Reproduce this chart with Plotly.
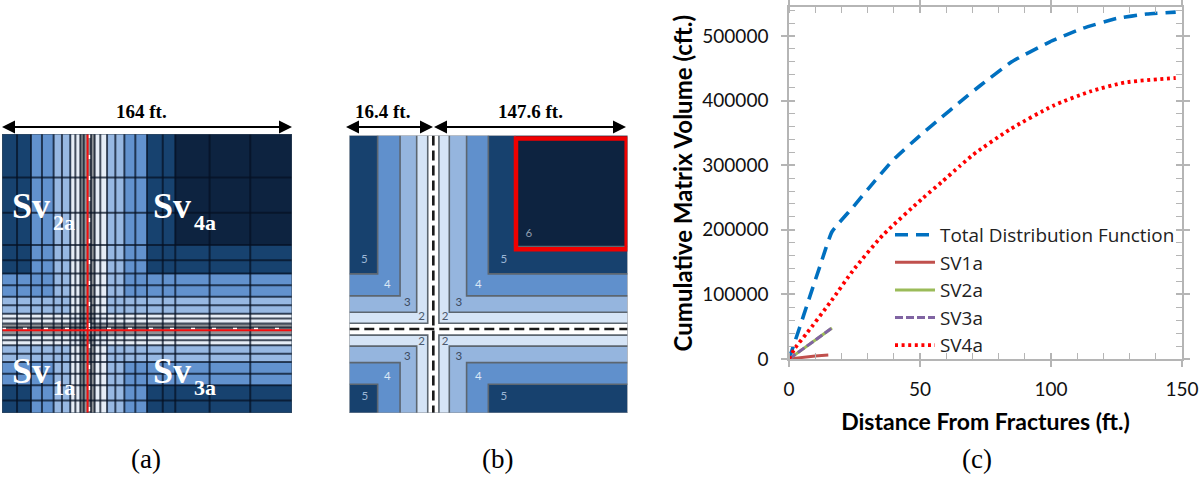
import plotly.graph_objects as go

# ---------- chart (c) data ----------
total_x = [0, 2, 4, 7, 12, 16.4, 24.4, 32, 39.7, 48.9, 57.6, 65.3, 72.9, 85, 99.6, 112.2, 125, 136.5, 147.6]
total_y = [0, 24000, 48000, 85000, 146000, 197000, 235000, 272000, 308000, 342000, 372000, 398000, 423000, 460000, 491000, 512000, 527000, 534000, 537000]
sv1_x = [0, 5, 10, 15]
sv1_y = [0, 2500, 4800, 6000]
sv2_x = [0, 4, 8, 12, 16.4]
sv2_y = [0, 11800, 23500, 35000, 48000]
sv3_x = [0, 4, 8, 12, 16.4]
sv3_y = [0, 11800, 23500, 35000, 48000]
sv4_x = [0, 2.3, 6.8, 15.6, 25, 35.9, 51.1, 58.3, 65.3, 70.2, 84.4, 100.8, 114.9, 128.2, 147.6]
sv4_y = [0, 17000, 40000, 87000, 140000, 192000, 249000, 274000, 299000, 316000, 355600, 392000, 414000, 428000, 435000]

# ---------- panel (a) grid (feet, y from the top) ----------
a_x_edges = [0, 16.4, 29.2, 39.2, 44.3, 52.8, 59.4, 68.8, 82.0, 98.0, 164]
a_x_levels = [5, 4, 3, 2, 1, 2, 3, 4, 5, 6]
a_y_edges = [0, 65.3, 82, 95.7, 105.6, 111.4, 118.3, 124.2, 134, 147.7, 164]
a_y_levels = [6, 5, 4, 3, 2, 1, 2, 3, 4, 5]
a_x_grid = [8.5, 16.4, 22.6, 29.2, 33.9, 38.6, 41.5, 44.3, 46.2, 50.3, 52.4, 55.6, 59.4, 64.1, 69.2, 75.4, 82, 90.9, 98, 117.4, 140.4]
a_y_grid = [25.5, 46.3, 65.3, 74.2, 82, 88.9, 95.7, 100.7, 105.6, 108.5, 111.4, 113.8, 118.3, 121.3, 124.2, 129.1, 134, 140.9, 147.7, 156.6]
a_frac_x = 48.4
a_frac_y = 115.4

# ---------- panel (b) zones ----------
b_x_edges = [0, 16.7, 29.9, 39.7, 46.2, 52.8, 58.9, 69.1, 81.9, 97.6, 164]
b_x_levels = [5, 4, 3, 2, 1, 2, 3, 4, 5, 6]
b_y_edges = [0, 65.6, 81.8, 94.8, 104.5, 111, 118, 124.5, 134.2, 147, 164]
b_y_levels = [6, 5, 4, 3, 2, 1, 2, 3, 4, 5]
b_frac_x = 49.5
b_frac_y = 114.4

level_colors_a = ["#8f9296", "#e6edf6", "#97b8e2", "#6292ce", "#17426f", "#0d2340"]
level_colors_b = ["#ffffff", "#d5e4f6", "#95b5de", "#6090cc", "#17416e", "#0d2340"]
zone_labels = [("5", 8.8, 73.5, "#9db7d6"), ("5", 91.1, 73.5, "#9db7d6"), ("5", 9.2, 154.9, "#9db7d6"), ("5", 91.1, 154.9, "#9db7d6"),
               ("6", 105.8, 58.1, "#8e9cae"),
               ("4", 22.4, 88.3, "#dbe7f5"), ("4", 76, 88.3, "#dbe7f5"), ("4", 22.4, 142.7, "#dbe7f5"), ("4", 76, 142.7, "#dbe7f5"),
               ("3", 34.2, 99.2, "#3c4a60"), ("3", 64.6, 99.2, "#3c4a60"), ("3", 34.2, 130.8, "#3c4a60"), ("3", 64.6, 130.8, "#3c4a60"),
               ("2", 42.6, 107.5, "#4c5a6e"), ("2", 56.4, 107.5, "#4c5a6e"), ("2", 42.6, 122.3, "#4c5a6e"), ("2", 56.4, 122.3, "#4c5a6e")]


def scale(colors):
    n = len(colors)
    out = []
    for i, c in enumerate(colors):
        out += [[i / n, c], [(i + 1) / n, c]]
    return out


def matrix(xl, yl):
    return [[min(a, b) for a in xl] for b in yl]


def px(x):
    return x / 1200


def py(y):
    return 1 - y / 479


W, H = 1200, 479
SERIF = "Liberation Serif"
SANS = "Lato"
AXIS = "#b5b5b5"

fig = go.Figure()

# ---- chart (c)
fig.add_trace(go.Scatter(x=total_x, y=total_y, mode="lines", name="Total Distribution Function",
                         line=dict(color="#0070C0", width=3.6, dash="13px,8px", shape="spline", smoothing=0.4)))
fig.add_trace(go.Scatter(x=sv1_x, y=sv1_y, mode="lines", name="SV1a", line=dict(color="#C0504D", width=3)))
fig.add_trace(go.Scatter(x=sv2_x, y=sv2_y, mode="lines", name="SV2a", line=dict(color="#9BBB59", width=3)))
fig.add_trace(go.Scatter(x=sv3_x, y=sv3_y, mode="lines", name="SV3a", line=dict(color="#8064A2", width=3, dash="8px,3px")))
fig.add_trace(go.Scatter(x=sv4_x, y=sv4_y, mode="lines", name="SV4a",
                         line=dict(color="#FF0000", width=3.8, dash="3px,3.6px", shape="spline", smoothing=0.6)))
# second set of axes gives the inward half of the crossing major ticks
fig.add_trace(go.Scatter(x=[None], y=[None], xaxis="x4", yaxis="y4", showlegend=False, hoverinfo="skip"))

# ---- panel (a)
fig.add_trace(go.Heatmap(x=a_x_edges, y=a_y_edges, z=matrix(a_x_levels, a_y_levels), zmin=0.5, zmax=6.5,
                         colorscale=scale(level_colors_a), showscale=False, hoverinfo="skip", xaxis="x2", yaxis="y2"))
gx, gy = [], []
for v in a_x_grid:
    gx += [v, v, None]
    gy += [0, 164, None]
for v in a_y_grid:
    gx += [0, 164, None]
    gy += [v, v, None]
fig.add_trace(go.Scatter(x=gx, y=gy, mode="lines", line=dict(color="rgba(6,16,34,0.72)", width=2), showlegend=False,
                         hoverinfo="skip", xaxis="x2", yaxis="y2"))
fig.add_trace(go.Scatter(x=[a_frac_x + 0.9, a_frac_x + 0.9, None, 0, 164], y=[0, 164, None, a_frac_y - 0.9, a_frac_y - 0.9],
                         mode="lines", line=dict(color="#ffffff", width=2, dash="4px,17px"), showlegend=False,
                         hoverinfo="skip", xaxis="x2", yaxis="y2"))
fig.add_trace(go.Scatter(x=[a_frac_x, a_frac_x, None, 0, 164], y=[0, 164, None, a_frac_y, a_frac_y], mode="lines",
                         line=dict(color="#f40c0c", width=2), showlegend=False, hoverinfo="skip", xaxis="x2", yaxis="y2"))

# ---- panel (b)
fig.add_trace(go.Heatmap(x=b_x_edges, y=b_y_edges, z=matrix(b_x_levels, b_y_levels), zmin=0.5, zmax=6.5,
                         colorscale=scale(level_colors_b), showscale=False, hoverinfo="skip", xaxis="x3", yaxis="y3"))
left = b_x_edges[1:5][::-1]
right = b_x_edges[5:10]
top = b_y_edges[1:5 + 1][::-1]
bottom = b_y_edges[6:10]
ox, oy = [], []
for xs, xend in ((left, 0), (right, 164)):
    for ys, yend in ((top, 0), (bottom, 164)):
        for a, b in zip(xs, ys):
            ox += [a, a, xend, None]
            oy += [yend, b, b, None]
fig.add_trace(go.Scatter(x=ox, y=oy, mode="lines", line=dict(color="#5c6670", width=1.6), showlegend=False,
                         hoverinfo="skip", xaxis="x3", yaxis="y3"))
fig.add_trace(go.Scatter(x=[b_frac_x, b_frac_x, None, 0, 164], y=[0, 164, None, b_frac_y, b_frac_y], mode="lines",
                         line=dict(color="#1a1a1a", width=2.6, dash="10px,5px"), showlegend=False, hoverinfo="skip",
                         xaxis="x3", yaxis="y3"))
fig.add_trace(go.Scatter(x=[l[1] for l in zone_labels], y=[l[2] for l in zone_labels], text=[l[0] for l in zone_labels],
                         mode="text", textfont=dict(family=SANS, size=11.5, color=[l[3] for l in zone_labels]),
                         showlegend=False, hoverinfo="skip", xaxis="x3", yaxis="y3"))

hidden = dict(visible=False, showgrid=False, zeroline=False, showticklabels=False)
shapes = [
    dict(type="rect", xref="x3", yref="y3", x0=98.2, x1=163.4, y0=1.8, y1=67.2, line=dict(color="#f00000", width=4.5)),
    dict(type="rect", xref="x2", yref="y2", x0=0, x1=164, y0=0, y1=164, line=dict(color="#3b4a5c", width=1)),
    dict(type="rect", xref="x3", yref="y3", x0=0, x1=164, y0=0, y1=164, line=dict(color="#8a9098", width=1)),
]


def arrow(x0, x1, y):
    size = 13
    half = 6.5
    shapes.append(dict(type="line", xref="paper", yref="paper", x0=px(x0 + 6), x1=px(x1 - 6), y0=py(y), y1=py(y),
                       line=dict(color="#000000", width=1.8)))
    shapes.append(dict(type="path", xref="paper", yref="paper", fillcolor="#000000", line=dict(width=0),
                       path=f"M {px(x0)} {py(y)} L {px(x0 + size)} {py(y - half)} L {px(x0 + size)} {py(y + half)} Z"))
    shapes.append(dict(type="path", xref="paper", yref="paper", fillcolor="#000000", line=dict(width=0),
                       path=f"M {px(x1)} {py(y)} L {px(x1 - size)} {py(y - half)} L {px(x1 - size)} {py(y + half)} Z"))


arrow(2, 292, 127)
arrow(346, 433, 127)
arrow(434, 626, 127)

annotations = []


def label(text, x, y, size, family=SERIF, color="#000000", anchor="center"):
    annotations.append(dict(text=text, x=px(x), y=py(y), xref="paper", yref="paper", xanchor=anchor, yanchor="middle",
                            showarrow=False, font=dict(family=family, size=size, color=color)))


label("<b>164 ft.</b>", 141, 111, 19)
label("<b>16.4 ft.</b>", 382, 111, 19)
label("<b>147.6 ft.</b>", 530, 111, 19)
label("(a)", 146, 459, 27)
label("(b)", 497, 459, 27)
label("(c)", 977, 459, 27)
for sub, x, y in (("2a", 10, 206), ("4a", 151, 206), ("1a", 10, 371), ("3a", 151, 371)):
    label("<b>Sv</b>", x, y, 36, color="#ffffff", anchor="left")
    label(f"<b>{sub}</b>", x + 41, y + 16, 22, color="#ffffff", anchor="left")

tickfont = dict(family=SANS, size=19, color="#111111")
x_titlefont = dict(family=SANS, size=23, color="#000000", weight="bold")
y_titlefont = dict(family=SANS, size=24, color="#000000", weight="bold")
c_x_dom = [px(789), px(1182)]
c_y_dom = [py(359), py(7.3)]
x_range = [0, 150]
y_range = [0, 544400]

fig.update_layout(
    width=W, height=H, margin=dict(l=0, r=0, t=0, b=0), paper_bgcolor="white", plot_bgcolor="rgba(0,0,0,0)",
    showlegend=True,
    legend=dict(x=px(890), y=py(216), xanchor="left", yanchor="top", bgcolor="rgba(0,0,0,0)", itemwidth=40,
                tracegroupgap=0, font=dict(family="Open Sans", size=18.9, color="#222222"), traceorder="normal"),
    xaxis=dict(domain=c_x_dom, range=x_range, tickvals=[0, 50, 100, 150], ticks="outside", ticklen=6, tickcolor=AXIS,
               tickwidth=1.5, showline=True, linecolor=AXIS, linewidth=1.5, mirror="ticks", showgrid=False, zeroline=False,
               minor=dict(dtick=10, ticks="inside", ticklen=6, tickcolor=AXIS, tickwidth=1.2, showgrid=False),
               tickfont=tickfont, ticklabelstandoff=6, automargin=False,
               title=dict(text="Distance From Fractures (ft.)", font=x_titlefont)),
    yaxis=dict(domain=c_y_dom, range=y_range, tickvals=[0, 100000, 200000, 300000, 400000, 500000], ticktext=["0", "100000", "200000", "300000", "400000", "500000"],
               ticks="outside", ticklen=6, tickcolor=AXIS, tickwidth=1.5, showline=True, linecolor=AXIS, linewidth=1.5, mirror="ticks",
               showgrid=False, zeroline=False,
               minor=dict(dtick=20000, ticks="inside", ticklen=6, tickcolor=AXIS, tickwidth=1.2, showgrid=False),
               tickfont=tickfont, ticklabelstandoff=9, automargin=False,
               title=dict(text="Cumulative Matrix Volume (cft.)", font=y_titlefont, standoff=3)),
    xaxis4=dict(domain=c_x_dom, range=x_range, overlaying="x", tickvals=[0, 50, 100, 150], ticks="inside", ticklen=6,
                tickcolor=AXIS, tickwidth=1.5, mirror="ticks", showline=False, showticklabels=False, showgrid=False,
                zeroline=False, anchor="y4", automargin=False),
    yaxis4=dict(domain=c_y_dom, range=y_range, overlaying="y", tickvals=[0, 100000, 200000, 300000, 400000, 500000],
                ticks="inside", ticklen=6, tickcolor=AXIS, tickwidth=1.5, mirror="ticks", showline=False,
                showticklabels=False, showgrid=False, zeroline=False, anchor="x4", automargin=False),
    xaxis2=dict(domain=[px(2), px(292)], range=[0, 164], anchor="y2", **hidden),
    yaxis2=dict(domain=[py(413), py(134)], range=[164, 0], anchor="x2", **hidden),
    xaxis3=dict(domain=[px(349.3), px(627.7)], range=[0, 164], anchor="y3", **hidden),
    yaxis3=dict(domain=[py(413), py(135.5)], range=[164, 0], anchor="x3", **hidden),
    shapes=shapes,
    annotations=annotations,
)

fig.write_html("out.html", post_script="document.body.style.margin='0';", config={"displayModeBar": False})
